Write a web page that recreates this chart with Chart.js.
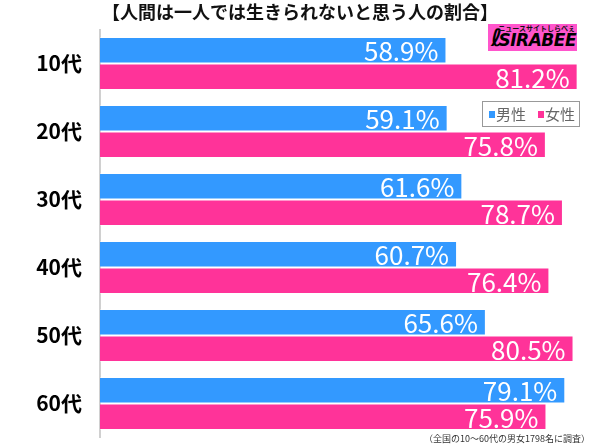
<!DOCTYPE html>
<html>
<head>
<meta charset="utf-8">
<script src="https://cdn.jsdelivr.net/npm/chart.js@4"></script>
<style>
  html, body { margin: 0; padding: 0; background: #fff; }
  #wrap { position: relative; width: 600px; height: 446px; }
  canvas { position: absolute; left: 0; top: 0; }
  #logo { position: absolute; left: 488px; top: 24px; width: 89px; height: 27px; background: #ff55cc; overflow: hidden; }
  #logo .sub { position: absolute; right: 2px; top: 0px; font: bold 7px "Noto Sans CJK JP", sans-serif; color: #111; white-space: nowrap; line-height: 8px; }
  #logo .main { position: absolute; right: 1px; top: 7px; font: italic 900 17px "DejaVu Sans", sans-serif; color: #000; letter-spacing: -0.5px; line-height: 19px; }
  #logo .i { position: absolute; left: 3px; top: 1px; font: bold 24px "DejaVu Sans", sans-serif; color: #000; line-height: 26px; }
</style>
</head>
<body>
<div id="wrap">
  <canvas id="c" width="600" height="446"></canvas>
  <div id="logo"><span class="i">ℓ</span><span class="sub">ニュースサイトしらべぇ</span><span class="main">SIRABEE</span></div>
</div>
<script>
const categories = ["10代", "20代", "30代", "40代", "50代", "60代"];
const maleValues = [58.9, 59.1, 61.6, 60.7, 65.6, 79.1];
const femaleValues = [81.2, 75.8, 78.7, 76.4, 80.5, 75.9];
const seriesLabels = ["男性", "女性"];
const titleText = "【人間は一人では生きられないと思う人の割合】";
const noteText = "（全国の10～60代の男女1798名に調査）";

const BLUE = "#3399ff";
const PINK = "#ff3399";

const decorPlugin = {
  id: "decor",
  afterDatasetsDraw(chart) {
    const ctx = chart.ctx;
    ctx.save();
    ctx.font = '26px "Noto Sans CJK JP", "Noto Sans", sans-serif';
    ctx.fillStyle = "#fff";
    ctx.textAlign = "right";
    ctx.textBaseline = "middle";
    chart.data.datasets.forEach((ds, di) => {
      const meta = chart.getDatasetMeta(di);
      meta.data.forEach((bar, i) => {
        ctx.fillText(ds.data[i].toFixed(1) + "%", bar.x - 8, bar.y + 1);
      });
    });
    ctx.fillStyle = "#111";
    ctx.textAlign = "center";
    ctx.font = 'bold 18px "Noto Sans CJK JP", sans-serif';
    ctx.fillText(titleText, 300, 12);
    ctx.font = '9px "Noto Sans CJK JP", sans-serif';
    ctx.fillStyle = "#333";
    ctx.textAlign = "right";
    ctx.fillText(noteText, 590, 439);
    const lx = 482, ly = 101, lw = 97, lh = 25;
    ctx.fillStyle = "#fff";
    ctx.fillRect(lx, ly, lw, lh);
    ctx.strokeStyle = "#999";
    ctx.lineWidth = 1;
    ctx.strokeRect(lx + 0.5, ly + 0.5, lw, lh);
    ctx.font = '15px "Noto Sans CJK JP", sans-serif';
    ctx.textAlign = "left";
    const colors = [BLUE, PINK];
    const xs = [489, 538];
    seriesLabels.forEach((lab, k) => {
      ctx.fillStyle = colors[k];
      ctx.fillRect(xs[k], 111, 6, 7);
      ctx.fillStyle = "#666";
      ctx.fillText(lab, xs[k] + 7, 114);
    });
    ctx.restore();
  }
};

new Chart(document.getElementById("c"), {
  type: "bar",
  data: {
    labels: categories,
    datasets: [
      { label: seriesLabels[0], data: maleValues, backgroundColor: BLUE, borderColor: "rgba(255,255,255,0.35)", borderWidth: 1, categoryPercentage: 0.78, barPercentage: 1 },
      { label: seriesLabels[1], data: femaleValues, backgroundColor: PINK, borderColor: "rgba(255,255,255,0.35)", borderWidth: 1, categoryPercentage: 0.78, barPercentage: 1 }
    ]
  },
  options: {
    indexAxis: "y",
    responsive: false,
    animation: false,
    layout: { padding: { top: 29.5, bottom: 8.5, left: 0, right: 0 } },
    plugins: { legend: { display: false }, tooltip: { enabled: false }, title: { display: false } },
    scales: {
      x: { display: false, min: 0, max: 85 },
      y: {
        grid: { display: false, drawTicks: false },
        border: { display: true, color: "#d0d0d0", width: 2 },
        ticks: { color: "#000", padding: 18, font: { family: '"Noto Sans CJK JP", sans-serif', size: 21, weight: "bold" } },
        afterFit(axis) { axis.width = 100; axis.paddingTop = 0; axis.paddingBottom = 0; }
      }
    }
  },
  plugins: [decorPlugin]
});
</script>
</body>
</html>
